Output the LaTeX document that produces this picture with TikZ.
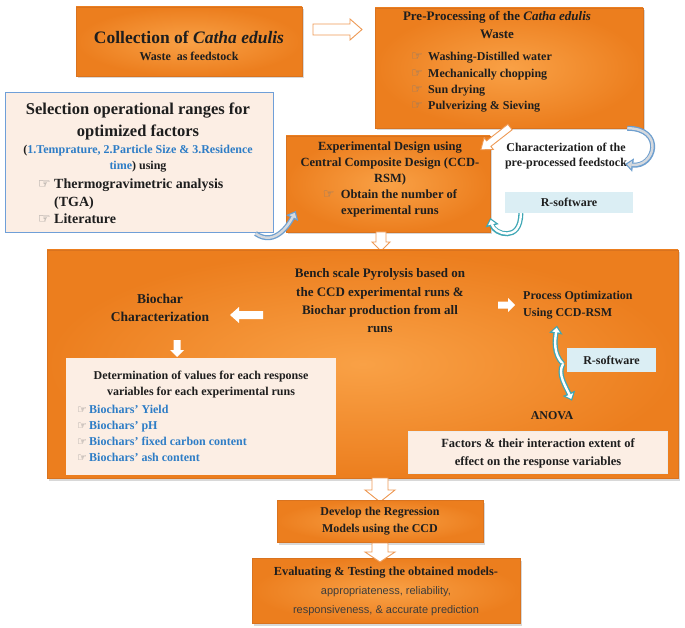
\documentclass[tikz,border=0pt]{standalone}
\usepackage{fontspec}
\setmainfont{Liberation Serif}
\newfontfamily\handfont{DejaVu Sans}
\newfontfamily\arialfont{Liberation Sans}
\usetikzlibrary{shadows,calc,arrows.meta}
\definecolor{orIn}{HTML}{F9A146}
\definecolor{orOut}{HTML}{EC7E1E}
\definecolor{orEdge}{HTML}{D9731F}
\definecolor{peach}{HTML}{FCEEE4}
\definecolor{selBorder}{HTML}{6F9FD8}
\definecolor{txtBlue}{HTML}{2E7DC6}
\definecolor{rsoft}{HTML}{DBEEF4}
\definecolor{hollowEdge}{HTML}{EE9A55}
\definecolor{ribOut}{HTML}{6E9FCF}
\definecolor{ribIn}{HTML}{D5D9DE}
\definecolor{tealOut}{HTML}{3FA7B5}
\definecolor{handgray}{HTML}{7A7A7A}
\definecolor{txt}{HTML}{1E1E1E}
\definecolor{evalgray}{HTML}{3C3C3C}
\newcommand{\fsz}[2]{\fontsize{#1}{#2}\selectfont}
\newcommand{\hand}[1][10]{{\handfont\color{handgray}\fontsize{#1}{#1}\selectfont ☞}}
\newcommand{\hitem}[3]{\makebox[#1][l]{\hand[#2]}#3}
% block arrow: #1 style, #2 start point, #3 angle, #4 length, #5 shaft half width, #6 head half width, #7 head length
\newcommand{\barrow}[7]{%
  \draw[#1, shift={#2}, rotate=#3] (0,-#5) -- (#4-#7,-#5) -- (#4-#7,-#6) -- (#4,0)
    -- (#4-#7,#6) -- (#4-#7,#5) -- (0,#5) -- cycle;}
\begin{document}
\begin{tikzpicture}[x=1pt,y=-1pt,
  obox/.style={rectangle, inner color=orIn, outer color=orOut, draw=orEdge, line width=0.5pt,
    drop shadow={opacity=0.3,shadow xshift=2pt,shadow yshift=-2.5pt}},
  pbox/.style={rectangle, fill=peach},
  tx/.style={text=txt, font=\bfseries, align=center, inner sep=0pt},
  hollow/.style={draw=hollowEdge, fill=white, line width=0.9pt, line join=miter},
  warrow/.style={fill=white, draw=none},
  ribA/.style={draw=#1, line width=5pt, -{Triangle[length=8pt,width=13pt]}},
  ribB/.style={draw=#1, line width=2.4pt, shorten >=2pt, -{Triangle[length=4.5pt,width=7.5pt]}}
]
\fill[white] (0,0) rectangle (685,628);
\useasboundingbox (0,0) rectangle (685,628);

% ---------- top row ----------
\node[obox, minimum width=226pt, minimum height=69pt] (coll) at (189,41.5) {};
\node[tx, font=\bfseries\fsz{17.5}{20}] (collT1) at (189,37) {Collection of \textit{Catha edulis}};
\node[tx, font=\bfseries\fsz{12}{14}] (collT2) at (189,56) {Waste\ \ as feedstock};

\node[obox, minimum width=268pt, minimum height=120pt] (pre) at (509,68) {};
\node[tx, font=\bfseries\fsz{13}{18}] (preT) at (497,25) {Pre-Processing of the \textit{Catha edulis}\\Waste};
\node[tx, anchor=west, align=left, font=\bfseries\fsz{12}{16.3}] (preL) at (411,82.5)
  {\hitem{17pt}{13}{Washing-Distilled water}\\\hitem{17pt}{13}{Mechanically chopping}\\\hitem{17pt}{13}{Sun drying}\\\hitem{17pt}{13}{Pulverizing \& Sieving}};

\barrow{hollow}{(313,29.5)}{0}{49}{5.5}{10.5}{12}

% ---------- selection box ----------
\node[pbox, draw=selBorder, line width=1pt, minimum width=268pt, minimum height=140pt] (sel) at (139,163) {};
\node[tx, font=\bfseries\fsz{16.5}{22}] (selT) at (138,121) {Selection operational ranges for\\optimized factors};
\node[tx, font=\bfseries\fsz{12}{16}] (selB) at (138,159)
  {(\textcolor{txtBlue}{1.Temprature, 2.Particle Size \& 3.Residence}\\\textcolor{txtBlue}{time}) using};
\node[tx, anchor=west, align=left, font=\bfseries\fsz{14}{17.5}] (selL) at (38,201.5)
  {\hitem{16pt}{14}{Thermogravimetric analysis}\\\hspace*{16pt}(TGA)\\\hitem{16pt}{14}{Literature}};

% ---------- experimental design ----------
\node[obox, minimum width=204pt, minimum height=96pt] (exp) at (388,184) {};
\node[tx, font=\bfseries\fsz{12.5}{16}] (expT) at (390,179)
  {Experimental Design using\\Central Composite Design (CCD-\\RSM)\\\hand[13]\ \ Obtain the number of\\experimental runs};

\barrow{hollow}{(510,127)}{218}{37}{3.5}{7.5}{10}

\node[tx, font=\bfseries\fsz{12}{15.5}] (charT) at (566,156) {Characterization of the\\pre-processed feedstock};
\node[rectangle, fill=rsoft, minimum width=128pt, minimum height=21pt, text=txt, font=\bfseries\fsz{12}{14}] (rs1) at (569,202.5) {R-software};

% ribbons top
\draw[ribA=ribOut] ($(sel.south east)+(-18,0)$) .. controls +(20,14) and +(-6,12) .. ($(exp.west)+(10,27)$);
\draw[ribB=ribIn]  ($(sel.south east)+(-18,0)$) .. controls +(20,14) and +(-6,12) .. ($(exp.west)+(10,27)$);
\draw[ribA=ribOut] ($(pre.south east)+(-16,0)$) .. controls +(38,0) and +(30,4) .. ($(charT.east)+(-2,8)$);
\draw[ribB=ribIn]  ($(pre.south east)+(-16,0)$) .. controls +(38,0) and +(30,4) .. ($(charT.east)+(-2,8)$);
\draw[ribA=tealOut] ($(rs1.south west)+(16,0)$) .. controls +(0,30) and +(4,16) .. ($(exp.east)+(0,34)$);
\draw[ribB=white]   ($(rs1.south west)+(16,0)$) .. controls +(0,30) and +(4,16) .. ($(exp.east)+(0,34)$);

\barrow{hollow}{(381,232)}{-90}{19}{5}{9}{9}

% ---------- big box ----------
\node[obox, minimum width=631pt, minimum height=228pt] (big) at (362.5,364) {};
\node[tx, font=\bfseries\fsz{13}{18.3}] (bench) at (380,301)
  {Bench scale Pyrolysis based on\\the CCD experimental runs \&\\Biochar production from all\\runs};
\node[tx, font=\bfseries\fsz{13.5}{18}] (bchar) at (160,308) {Biochar\\Characterization};
\barrow{warrow}{(263,315)}{180}{33}{4}{8}{9}
\barrow{warrow}{(498,305)}{0}{17}{3.5}{7}{7}
\barrow{warrow}{(177,340)}{-90}{17}{3.5}{7}{7}
\node[tx, anchor=west, align=left, font=\bfseries\fsz{12}{17}] (popt) at (523,305.5) {Process Optimization\\Using CCD-RSM};

\node[pbox, minimum width=270pt, minimum height=117pt] (det) at (200.5,416.5) {};
\node[tx, font=\bfseries\fsz{12}{16}] (detT) at (201,385) {Determination of values for each response\\variables for each experimental runs};
\node[tx, anchor=west, align=left, font=\bfseries\fsz{12}{16}, text=txtBlue] (detL) at (77,433)
  {\hitem{12pt}{11}{Biochars' Yield}\\\hitem{12pt}{11}{Biochars' pH}\\\hitem{12pt}{11}{Biochars' fixed carbon content}\\\hitem{12pt}{11}{Biochars' ash content}};

\node[rectangle, fill=rsoft, minimum width=89pt, minimum height=24pt, text=txt, font=\bfseries\fsz{12}{14}] (rs2) at (611.5,360) {R-software};
\coordinate (fork) at (563,364);
\node[tx, font=\bfseries\fsz{12}{14}] (anova) at (552,416) {ANOVA};
\draw[ribA=tealOut] (fork) .. controls +(-10,-10) and +(-2,14) .. ($(popt.south west)+(34,6)$);
\draw[ribB=white]   (fork) .. controls +(-10,-10) and +(-2,14) .. ($(popt.south west)+(34,6)$);
\draw[ribA=tealOut] (fork) .. controls +(-6,10) and +(-6,-14) .. ($(anova.north)+(20,-11)$);
\draw[ribB=white]   (fork) .. controls +(-6,10) and +(-6,-14) .. ($(anova.north)+(20,-11)$);

\node[pbox, draw=white!85!gray, line width=0.5pt, minimum width=259pt, minimum height=42pt] (fac) at (537.5,452) {};
\node[tx, font=\bfseries\fsz{12.5}{18}] (facT) at (538,453) {Factors \& their interaction extent of\\effect on the response variables};

% ---------- bottom ----------
\barrow{hollow}{(380,478)}{-90}{24}{8}{15}{12}
\node[obox, minimum width=206pt, minimum height=42pt] (dev) at (380,521) {};
\node[tx, font=\bfseries\fsz{12}{17}] (devT) at (380,521.5) {Develop the Regression\\Models using the CCD};
\node[obox, minimum width=268pt, minimum height=65pt] (eval) at (386,590.5) {};
\barrow{hollow}{(380,543)}{-90}{19}{8}{15}{10}
\node[tx, font=\bfseries\fsz{12.3}{14}] (evalT) at (386,573) {Evaluating \& Testing the obtained models-};
\node[tx, font=\arialfont\mdseries\fsz{11}{18.5}, text=evalgray] (evalS) at (386,601) {appropriateness, reliability,\\responsiveness, \& accurate prediction};
\end{tikzpicture}
\end{document}
